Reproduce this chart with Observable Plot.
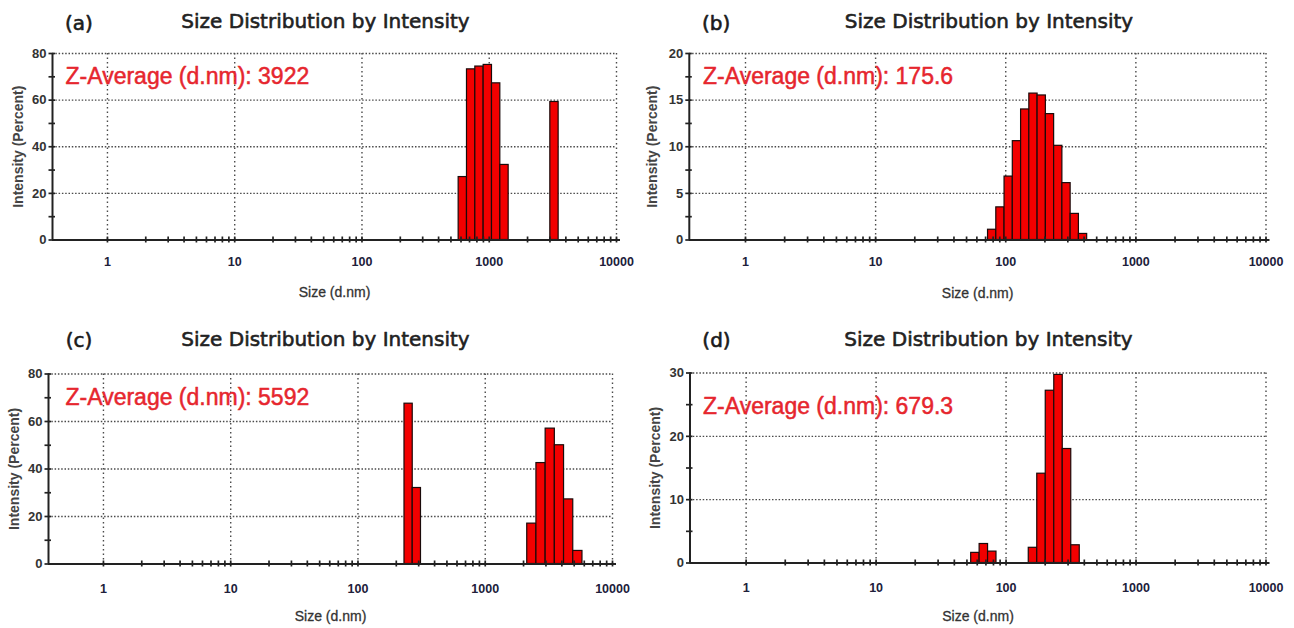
<!DOCTYPE html>
<html>
<head>
<meta charset="utf-8">
<script src="https://cdn.jsdelivr.net/npm/d3@7"></script>
<script src="https://cdn.jsdelivr.net/npm/@observablehq/plot@0.6"></script>
<style>
  html, body { margin: 0; padding: 0; background: #fff; }
  #chart { position: relative; width: 1294px; height: 628px; overflow: hidden; background: #fff; }
  .panel { position: absolute; }
</style>
</head>
<body>
<div id="chart"></div>
<script>
// ---------------- DATA ----------------
const panelLabels = ["(a)", "(b)", "(c)", "(d)"];
const chartTitle = "Size Distribution by Intensity";
const zAverageText = ["Z-Average (d.nm): 3922", "Z-Average (d.nm): 175.6", "Z-Average (d.nm): 5592", "Z-Average (d.nm): 679.3"];
const xAxisLabel = "Size (d.nm)";
const yAxisLabel = "Intensity (Percent)";
const xTickValues = [1, 10, 100, 1000, 10000];
const aYTicks = [0, 20, 40, 60, 80];
const bYTicks = [0, 5, 10, 15, 20];
const cYTicks = [0, 20, 40, 60, 80];
const dYTicks = [0, 10, 20, 30];

// size bins (lower / upper edge, nm) and intensity (%)
const aLow = [575, 668.6, 777.4, 903.9, 1051, 1222, 3020];
const aHigh = [668.6, 777.4, 903.9, 1051, 1222, 1421, 3510];
const aIntensity = [27.0, 73.2, 74.4, 75.1, 67.2, 32.2, 59.2];

const bLow = [73.1, 84.6, 97.9, 113.3, 131.2, 151.8, 175.7, 203.4, 235.4, 272.4, 315.3, 365.0];
const bHigh = [84.6, 97.9, 113.3, 131.2, 151.8, 175.7, 203.4, 235.4, 272.4, 315.3, 365.0, 422.4];
const bIntensity = [1.1, 3.5, 6.8, 10.6, 14.0, 15.7, 15.5, 13.5, 10.1, 6.1, 2.8, 0.65];

const cLow = [232, 269.3, 2138, 2525, 2983, 3523, 4162, 4916];
const cHigh = [269.3, 312.7, 2525, 2983, 3523, 4162, 4916, 5808];
const cIntensity = [67.5, 32.0, 17.0, 42.5, 57.0, 50.0, 27.2, 5.5];

const dLow = [53.9, 62.6, 72.7, 149.5, 173.8, 202.0, 234.9, 273.0, 317.4];
const dHigh = [62.6, 72.7, 84.4, 173.8, 202.0, 234.9, 273.0, 317.4, 369.0];
const dIntensity = [1.6, 3.0, 1.8, 2.4, 14.1, 27.2, 29.7, 18.0, 2.8];

// ---------------- LAYOUT ----------------
const xDomain = [0.37, 10000];
const xMinorTicks = d3.scaleLog().domain([1, 10000]).ticks();

const panels = [
  { low: aLow, high: aHigh, values: aIntensity, yTicks: aYTicks,
    left: 0, top: 0, width: 640, height: 314,
    mL: 52, mR: 24, mT: 53, mB: 74.5,
    label: [78.5, 23], title: [325, 21.5], z: [65, 76], zLen: 247, yLabX: 18.3, xLabY: 292.5, tickPad: 17.5 },
  { low: bLow, high: bHigh, values: bIntensity, yTicks: bYTicks,
    left: 640, top: 0, width: 654, height: 314,
    mL: 48.8, mR: 28.5, mT: 53, mB: 74.5,
    label: [75.7, 23], title: [348.5, 21.5], z: [62.5, 76], zLen: 250, yLabX: 12.5, xLabY: 293, tickPad: 17.5 },
  { low: cLow, high: cHigh, values: cIntensity, yTicks: cYTicks,
    left: 0, top: 314, width: 640, height: 314,
    mL: 48, mR: 28, mT: 59.5, mB: 64.5,
    label: [78.5, 26], title: [325, 25], z: [65, 83], zLen: 245, yLabX: 14.3, xLabY: 302.5, tickPad: 20 },
  { low: dLow, high: dHigh, values: dIntensity, yTicks: dYTicks,
    left: 640, top: 314, width: 654, height: 314,
    mL: 49.5, mR: 28.5, mT: 58.5, mB: 65.5,
    label: [76, 26], title: [348, 25], z: [62.5, 92.5], zLen: 252, yLabX: 14.6, xLabY: 302, tickPad: 20 }
];

const chart = document.getElementById("chart");

panels.forEach((p, idx) => {
  const bins = p.values.map((v, i) => ({ x1: p.low[i], x2: p.high[i], y: v }));
  const yMax = p.yTicks[p.yTicks.length - 1];
  const step = p.yTicks[1] - p.yTicks[0];
  const yAllTicks = d3.range(0, yMax + step / 4, step / 2);
  const frameMidY = p.mT + (p.height - p.mT - p.mB) / 2;
  const frameMidX = p.mL + (p.width - p.mL - p.mR) / 2;
  const at = (x, y) => ({ frameAnchor: "top-left", lineAnchor: "middle", dx: x - p.mL, dy: y - p.mT });

  const svg = Plot.plot({
    width: p.width,
    height: p.height,
    marginLeft: p.mL,
    marginRight: p.mR,
    marginTop: p.mT,
    marginBottom: p.mB,
    style: { fontFamily: '"Liberation Sans", Arial, sans-serif', background: "transparent", overflow: "visible" },
    x: { type: "log", domain: xDomain, axis: null },
    y: { domain: [0, yMax], axis: null },
    marks: [
      // dotted grid
      Plot.ruleY(p.yTicks.filter(d => d > 0), { stroke: "#4a4a4a", strokeWidth: 1.4, strokeDasharray: "1.5,1.8" }),
      Plot.ruleX(xTickValues, { stroke: "#4a4a4a", strokeWidth: 1.4, strokeDasharray: "1.5,3" }),
      // bars
      Plot.rect(bins, { x1: "x1", x2: "x2", y1: 0, y2: "y", fill: "#f20000", stroke: "#1a0a0a", strokeWidth: 1.2 }),
      // axis lines
      Plot.ruleY([0], { stroke: "#222", strokeWidth: 2, insetRight: -4 }),
      Plot.ruleX([xDomain[0]], { stroke: "#222", strokeWidth: 2 }),
      // tick marks crossing the axes
      Plot.ruleX(xMinorTicks, { x: d => d, y1: 0, y2: 0, insetTop: -3, insetBottom: -3, stroke: "#222", strokeWidth: 1.7 }),
      Plot.ruleY(yAllTicks, { y: d => d, x1: xDomain[0], x2: xDomain[0], insetLeft: -3.5, insetRight: -3, stroke: "#222", strokeWidth: 1.7 }),
      // tick labels
      Plot.axisX(xTickValues, { tickSize: 0, tickPadding: p.tickPad, tickFormat: d => String(d), label: null,
        fontSize: 12.5, fontWeight: "bold", color: "#20203a" }),
      Plot.axisY(p.yTicks, { tickSize: 0, tickPadding: 6, tickFormat: d => String(d), label: null,
        fontSize: 13, fontWeight: "bold", color: "#333" }),
      // axis titles
      Plot.text([yAxisLabel], { text: d => d, ...at(p.yLabX, frameMidY),
        rotate: -90, textAnchor: "middle", fontSize: 14, fontWeight: "bold", fill: "#444", ariaLabel: "ylabel" }),
      Plot.text([xAxisLabel], { text: d => d, ...at(frameMidX, p.xLabY),
        textAnchor: "middle", fontSize: 14, fill: "#333", stroke: "#333", strokeWidth: 0.3, ariaLabel: "xlabel" }),
      // panel label + title
      Plot.text([panelLabels[idx]], { text: d => d, ...at(p.label[0], p.label[1]),
        textAnchor: "middle", fontSize: 20, fontFamily: '"DejaVu Sans", sans-serif', fill: "#1a1a1a",
        stroke: "#1a1a1a", strokeWidth: 0.6, ariaLabel: "plabel" }),
      Plot.text([chartTitle], { text: d => d, ...at(p.title[0], p.title[1]),
        textAnchor: "middle", fontSize: 20, fontFamily: '"DejaVu Sans", sans-serif', fill: "#222",
        stroke: "#222", strokeWidth: 0.6, ariaLabel: "title" }),
      // Z-average annotation
      Plot.text([zAverageText[idx]], { text: d => d, ...at(p.z[0], p.z[1]),
        textAnchor: "start", fontSize: 23, fill: "#e6262e", stroke: "#e6262e", strokeWidth: 0.5, ariaLabel: "zavg" })
    ]
  });

  const sel = d3.select(svg);
  sel.selectAll('g[aria-label="title"] text').attr("textLength", 296).attr("lengthAdjust", "spacingAndGlyphs");
  sel.selectAll('g[aria-label="zavg"] text').attr("textLength", p.zLen).attr("lengthAdjust", "spacingAndGlyphs");
  sel.selectAll('g[aria-label="ylabel"] text').attr("textLength", 138).attr("lengthAdjust", "spacingAndGlyphs");
  sel.selectAll('g[aria-label="xlabel"] text').attr("textLength", 66).attr("lengthAdjust", "spacingAndGlyphs");

  const div = document.createElement("div");
  div.className = "panel";
  div.style.left = p.left + "px";
  div.style.top = p.top + "px";
  div.appendChild(svg);
  chart.appendChild(div);
});
</script>
</body>
</html>
